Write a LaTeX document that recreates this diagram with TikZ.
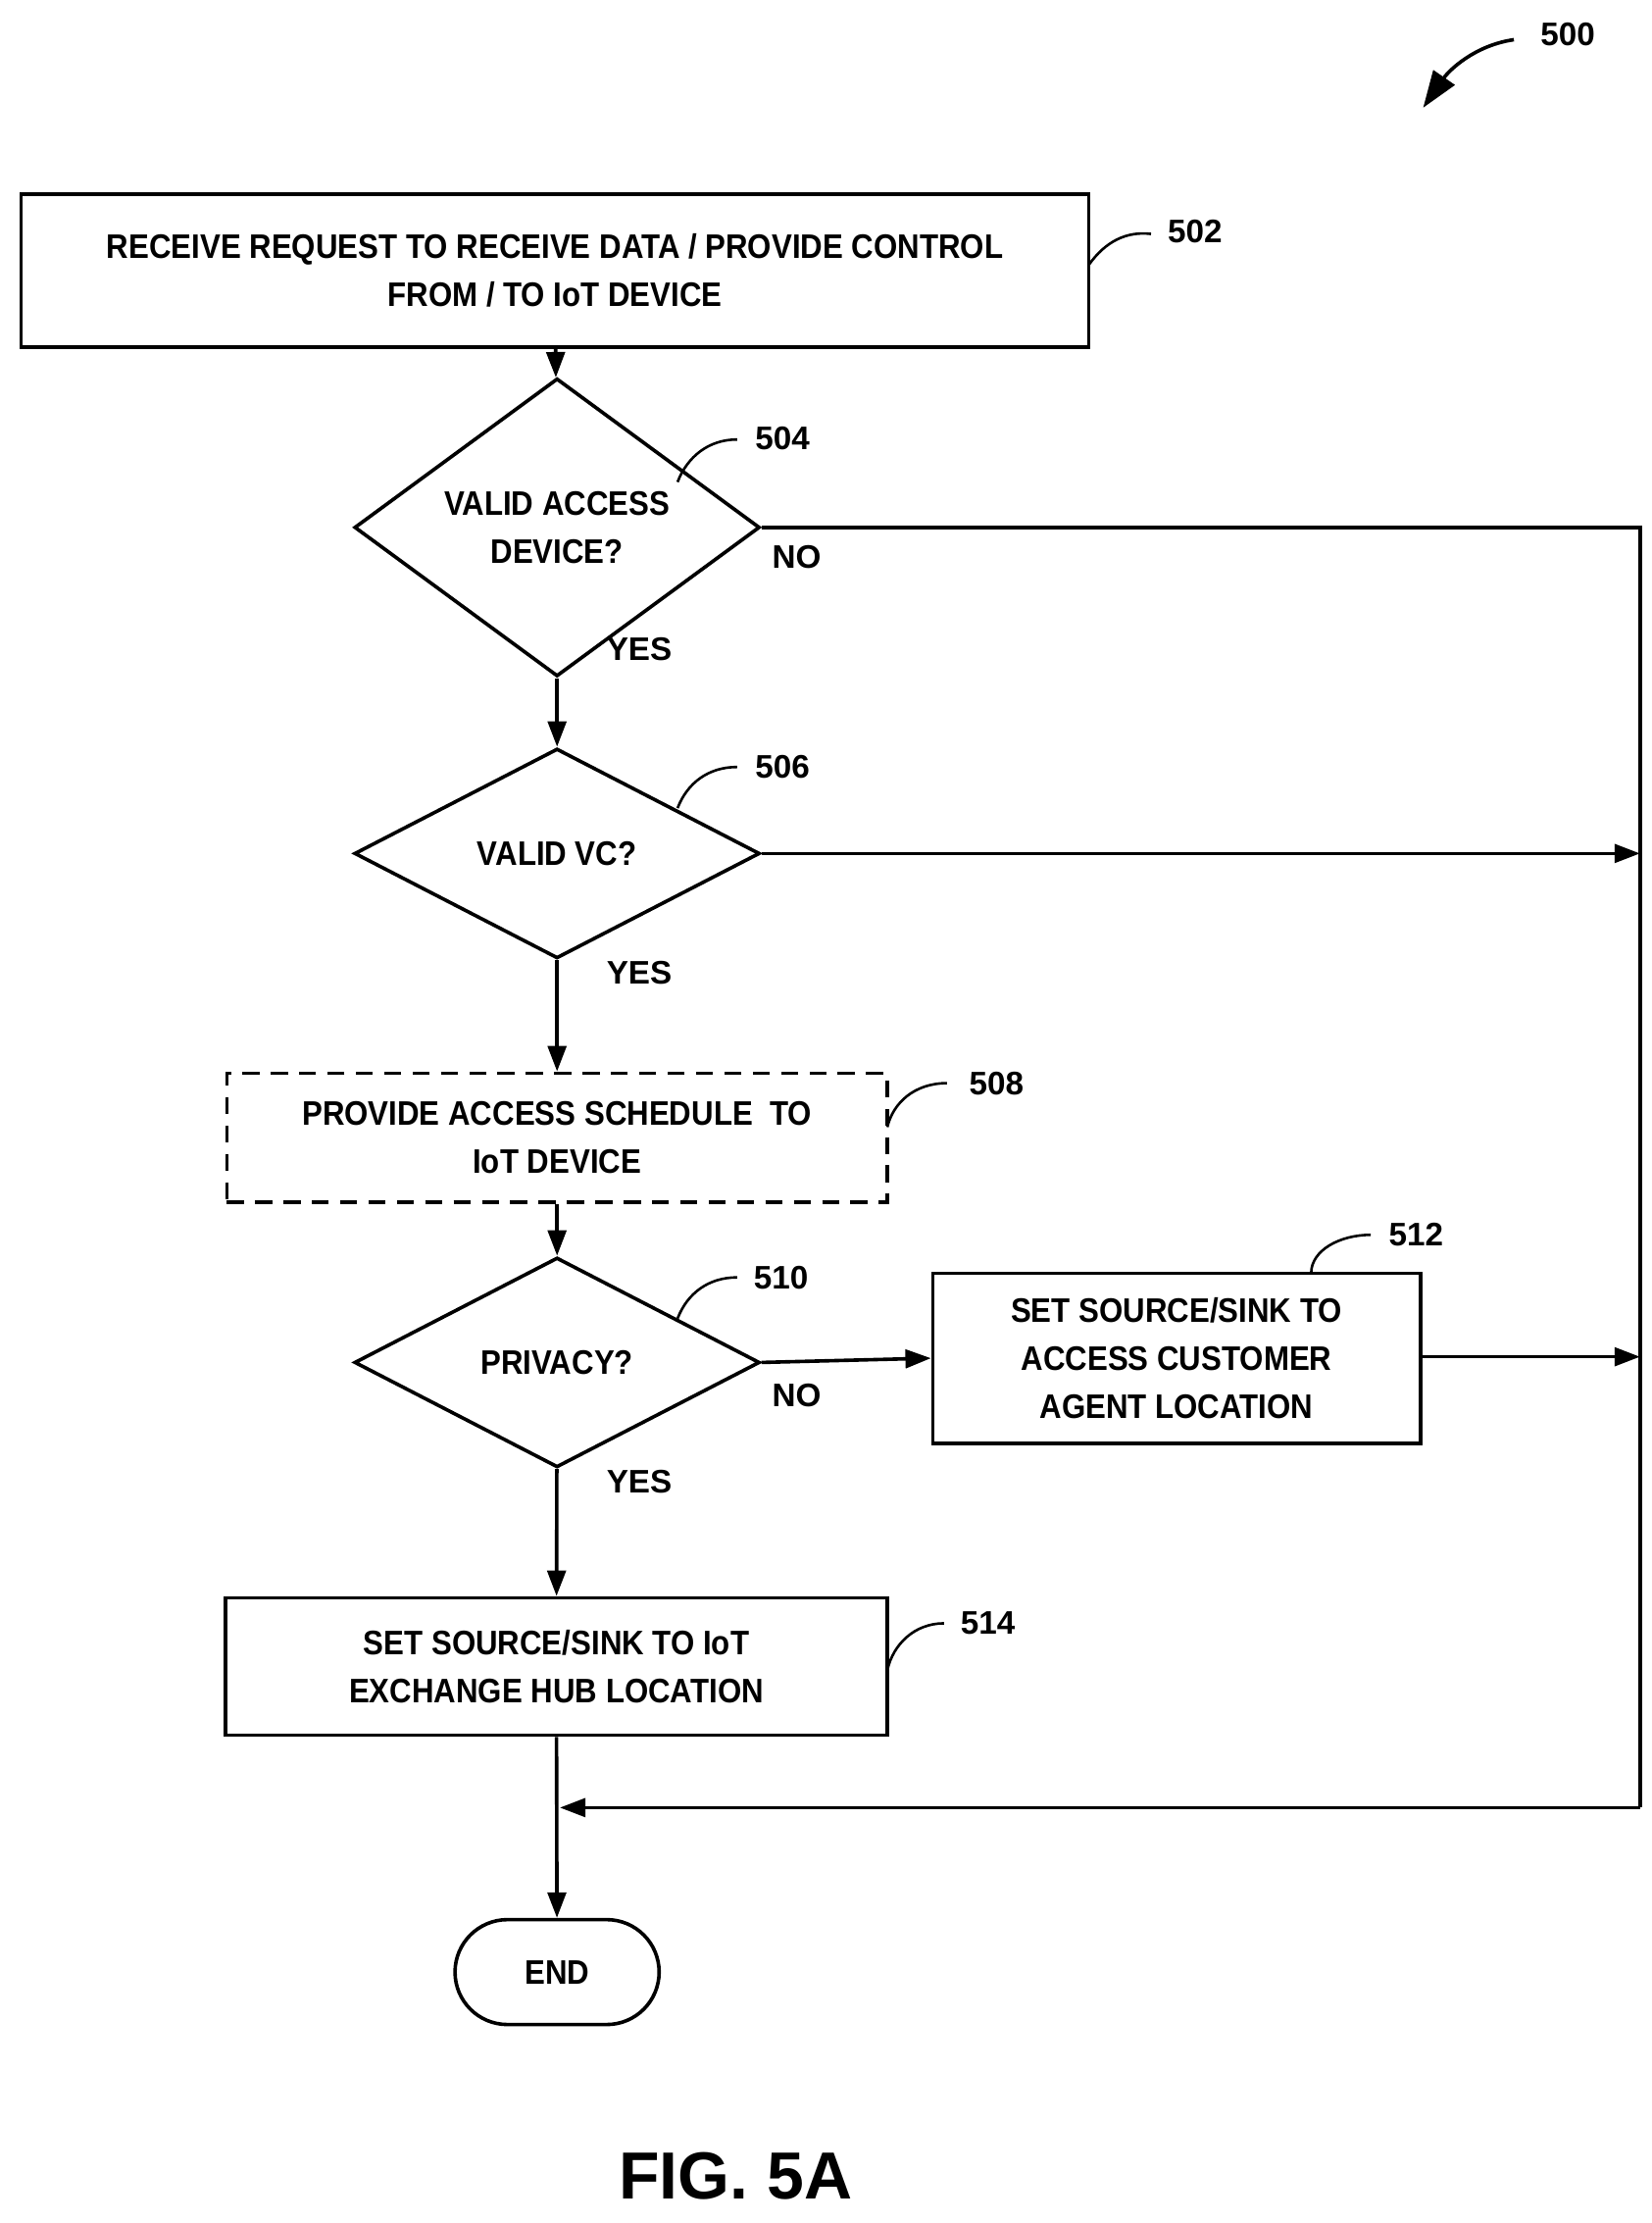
\documentclass[tikz,border=0pt]{standalone}
\usepackage{fontspec}
\setmainfont{Liberation Sans}
\usetikzlibrary{arrows.meta,shapes.geometric}
\begin{document}
\begin{tikzpicture}[x=1pt,y=-1pt,line width=2.5pt,
  txt/.style={font=\fontsize{24}{34}\selectfont\bfseries,align=center,inner sep=0},
  lab/.style={font=\fontsize{23}{28}\selectfont\bfseries,inner sep=0},
  dia/.style={diamond,draw,minimum width=286pt,minimum height=160pt,inner sep=0,font=\fontsize{24}{34}\selectfont\bfseries,align=center},
  arr/.style={-{Triangle[length=18pt,width=13pt]}},
  hook/.style={line width=1.8pt}]
\useasboundingbox (0,0) rectangle (1165,1568);
\node[draw,minimum width=753pt,minimum height=108pt,txt] (b502) at (391.5,191) {\scalebox{0.9}[1]{RECEIVE REQUEST TO RECEIVE DATA / PROVIDE CONTROL}\\\scalebox{0.9}[1]{FROM / TO IoT DEVICE}};
\node[dia] (d504) at (393,372) {\scalebox{0.9}[1]{VALID ACCESS}\\\scalebox{0.9}[1]{DEVICE?}};
\node[dia,minimum height=148pt] (d506) at (393,602) {\scalebox{0.9}[1]{VALID VC?}};
\node[draw,dashed,dash pattern=on 12pt off 8pt,minimum width=466pt,minimum height=91pt,txt] (b508) at (393,802.5) {\scalebox{0.9}[1]{PROVIDE ACCESS SCHEDULE\ \ TO}\\\scalebox{0.9}[1]{IoT DEVICE}};
\node[dia,minimum height=148pt] (d510) at (393,961) {\scalebox{0.9}[1]{PRIVACY?}};
\node[draw,minimum width=344pt,minimum height=120pt,txt] (b512) at (830,958) {\scalebox{0.9}[1]{SET SOURCE/SINK TO}\\\scalebox{0.9}[1]{ACCESS CUSTOMER}\\\scalebox{0.9}[1]{AGENT LOCATION}};
\node[draw,minimum width=467pt,minimum height=97pt,txt] (b514) at (392.5,1175.5) {\scalebox{0.9}[1]{SET SOURCE/SINK TO IoT}\\\scalebox{0.9}[1]{EXCHANGE HUB LOCATION}};
\node[draw,rounded corners=37pt,minimum width=144pt,minimum height=74pt,txt] (end) at (393,1391) {\scalebox{0.9}[1]{END}};
\coordinate (r1) at (1157,372);
\coordinate (r2) at (1157,602);
\coordinate (r3) at (1157,957);
\coordinate (r4) at (1157,1275);
\coordinate (m) at (395,1275);
\draw[arr] (b502) -- (d504);
\draw[arr] (d504) -- (d506);
\draw[arr] (d506) -- (b508);
\draw[arr] (b508) -- (d510);
\draw[arr] (d510) -- (b514);
\draw[arr] (b514) -- (end);
\draw (d504.east) -- (r1) -- (r4);
\draw[arr] (r4) -- (m);
\draw[arr] (d506.east) -- (r2);
\draw[arr] (d510.east) -- (b512.west);
\draw[arr] (b512.east |- r3) -- (r3);
\node[lab] (n1) at (562,393) {NO};
\node[lab] (y1) at (451,458) {YES};
\node[lab] (y2) at (451,686) {YES};
\node[lab] (n3) at (562,984) {NO};
\node[lab] (y3) at (451,1045) {YES};
\node[lab] (l502) at (843,163) {502};
\node[lab] (l504) at (552,309) {504};
\node[lab] (l506) at (552,541) {506};
\node[lab] (l508) at (703,764) {508};
\node[lab] (l510) at (551,901) {510};
\node[lab] (l512) at (999,871) {512};
\node[lab] (l514) at (697,1145) {514};
\node[lab] (l500) at (1106,24) {500};
\draw[hook] (768,187) .. controls (780,170) and (795,163) .. (812,165);
\draw[hook] (478,340) .. controls (485,322) and (500,310) .. (520,310);
\draw[hook] (478,570) .. controls (485,552) and (500,541) .. (520,541);
\draw[hook] (626,795) .. controls (630,778) and (645,764) .. (668,764);
\draw[hook] (478,930) .. controls (485,912) and (500,901) .. (520,901);
\draw[hook] (925,898) .. controls (925,882) and (945,871) .. (967,871);
\draw[hook] (626,1178) .. controls (630,1160) and (645,1145) .. (666,1145);
\draw[line width=2.5pt,-{Triangle[length=26pt,width=18pt]}] (1068,28) .. controls (1040,32) and (1022,50) .. (1004,76);
\node[font=\fontsize{47}{50}\selectfont\bfseries,inner sep=0] (fig) at (519,1535) {FIG. 5A};
\end{tikzpicture}
\end{document}
